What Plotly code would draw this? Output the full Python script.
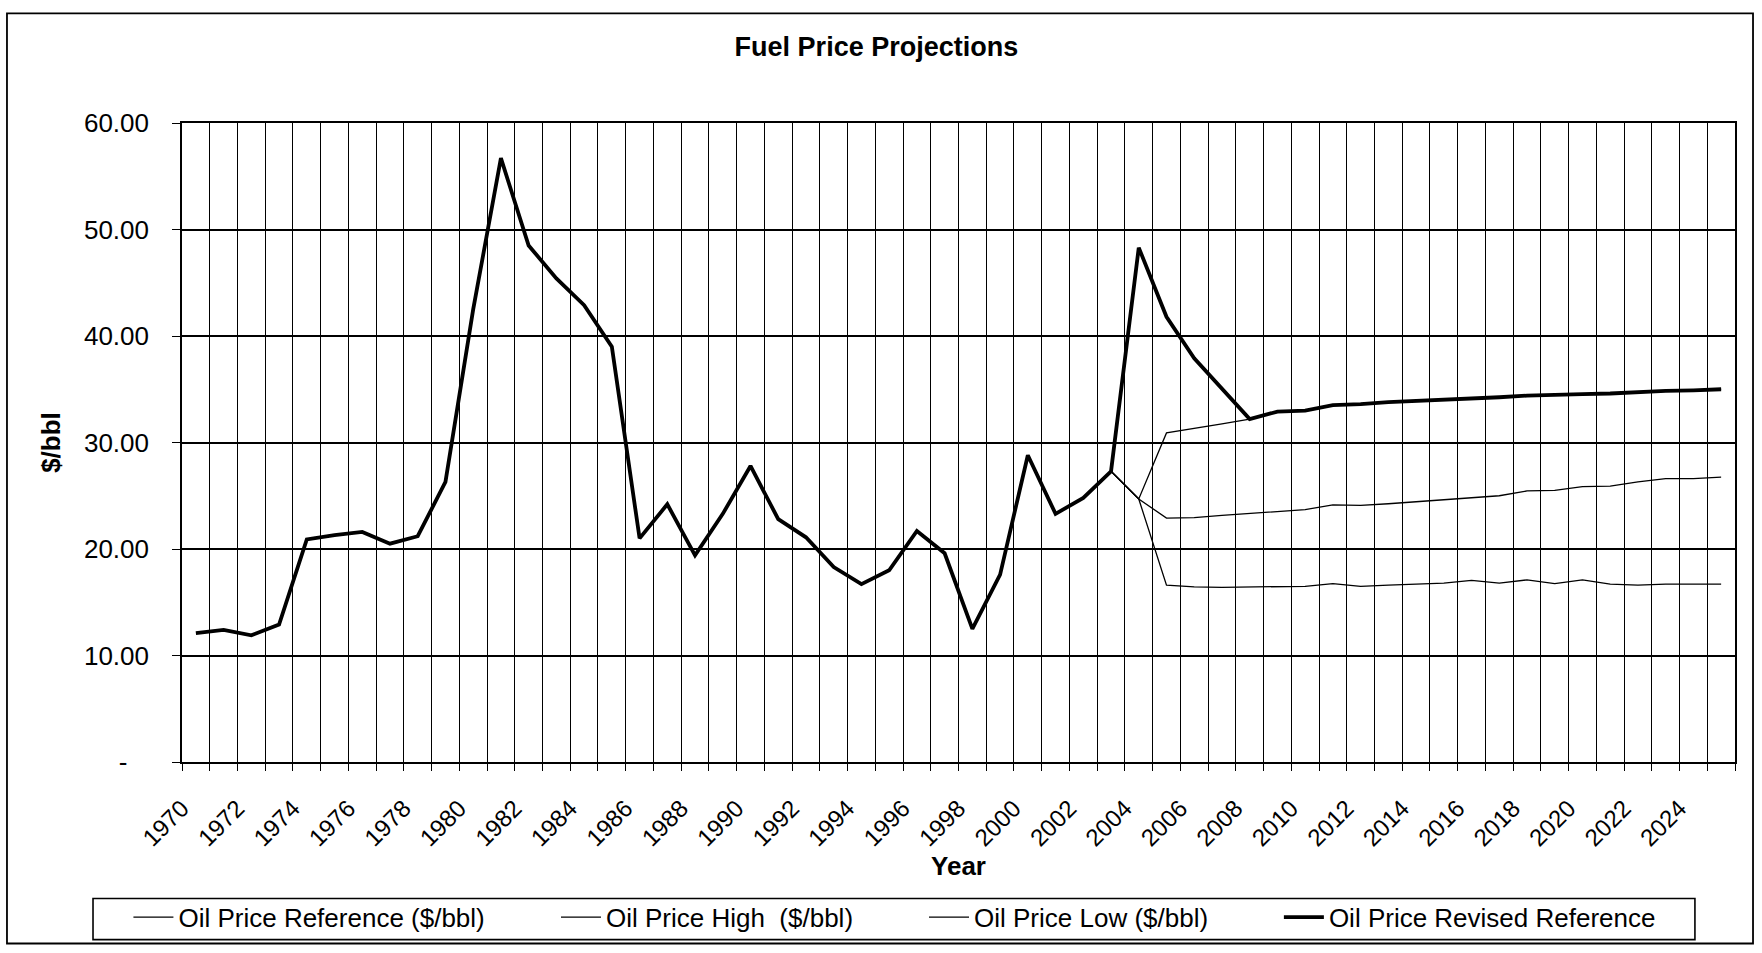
import plotly.graph_objects as go

# Years shown on the category axis (one slot per year)
years = list(range(1970, 2026))

# Oil price, revised reference case ($/bbl), 1970-2025
revised_reference = [
    12.1, 12.4, 11.9, 12.9, 20.9, 21.3, 21.6, 20.5, 21.2, 26.3,
    42.5, 56.7, 48.5, 45.4, 42.9, 39.0, 21.0, 24.2, 19.4, 23.3,
    27.8, 22.8, 21.1, 18.3, 16.7, 18.0, 21.7, 19.6, 12.5, 17.6,
    28.8, 23.3, 24.8, 27.3, 48.3, 41.8, 37.9, 35.0, 32.2, 32.9,
    33.0, 33.5, 33.6, 33.8, 33.9, 34.0, 34.1, 34.25, 34.4, 34.5,
    34.55, 34.6, 34.75, 34.85, 34.9, 35.0,
]

# Earlier projection cases, 2003-2025
case_years = list(range(2003, 2026))
reference_case = [
    27.3, 24.7, 22.9, 22.95, 23.15, 23.35, 23.5, 23.7, 24.15, 24.1,
    24.25, 24.45, 24.6, 24.8, 25.0, 25.45, 25.5, 25.85, 25.9, 26.3,
    26.6, 26.6, 26.75,
]
high_case = [
    27.3, 24.7, 30.9, 31.3, 31.75, 32.2, 32.9, 33.0, 33.5, 33.6,
    33.8, 33.9, 34.0, 34.1, 34.25, 34.4, 34.5, 34.55, 34.6, 34.75,
    34.85, 34.9, 35.0,
]
low_case = [
    27.3, 24.7, 16.6, 16.45, 16.4, 16.45, 16.5, 16.5, 16.75, 16.5,
    16.6, 16.7, 16.8, 17.05, 16.8, 17.1, 16.75, 17.1, 16.7, 16.6,
    16.7, 16.7, 16.7,
]

# Axis labels
y_tick_values = [0, 10, 20, 30, 40, 50, 60]
y_tick_labels = ["-\u00a0\u00a0\u00a0", "10.00", "20.00", "30.00", "40.00", "50.00", "60.00"]
x_label_every = 2

FONT = "Liberation Sans, Arial, Helvetica, sans-serif"
INK = "#000000"
TXT = 26

fig = go.Figure()

thin = dict(color=INK, width=1.3)
fig.add_trace(go.Scatter(x=case_years, y=reference_case, mode="lines", line=thin,
                         name="Oil Price Reference ($/bbl)", legend="legend"))
fig.add_trace(go.Scatter(x=case_years, y=high_case, mode="lines", line=thin,
                         name="Oil Price High  ($/bbl)", legend="legend2"))
fig.add_trace(go.Scatter(x=case_years, y=low_case, mode="lines", line=thin,
                         name="Oil Price Low ($/bbl)", legend="legend3"))
fig.add_trace(go.Scatter(x=years, y=revised_reference, mode="lines",
                         line=dict(color=INK, width=3.8),
                         name="Oil Price Revised Reference", legend="legend4"))

# Category boundaries: grid line and tick between every year, label every other year
boundaries = [y - 0.5 for y in years] + [years[-1] + 0.5]
boundary_text = [str(y) if (y - years[0]) % x_label_every == 0 else "" for y in years] + [""]

legend_common = dict(
    orientation="h", yanchor="middle", xanchor="left", y=-0.243,
    bgcolor="rgba(0,0,0,0)", borderwidth=0, itemwidth=40,
    font=dict(family=FONT, size=TXT, color=INK),
)

fig.update_layout(
    width=1762, height=953,
    margin=dict(l=182, r=27, t=123, b=189),
    paper_bgcolor="white", plot_bgcolor="white",
    font=dict(family=FONT, size=TXT, color=INK),
    showlegend=True,
    title=dict(text="<b>Fuel Price Projections</b>", xref="container", yref="container",
               x=0.4974, y=1 - 47 / 953, xanchor="center", yanchor="middle",
               font=dict(family=FONT, size=27, color=INK)),
    legend=dict(x=-0.0345, **legend_common),
    legend2=dict(x=0.2408, **legend_common),
    legend3=dict(x=0.4778, **legend_common),
    legend4=dict(x=0.7063, **legend_common),
    xaxis=dict(
        range=[years[0] - 0.5, years[-1] + 0.5],
        tickmode="array", tickvals=boundaries, ticktext=boundary_text,
        tickangle=-45, ticks="outside", ticklen=7, tickwidth=1.3, tickcolor=INK,
        ticklabelstandoff=14,
        showgrid=True, gridcolor=INK, gridwidth=1.3,
        showline=True, linecolor=INK, linewidth=1.6, mirror=True,
        zeroline=False,
        tickfont=dict(family=FONT, size=24, color=INK),
        title=dict(text="<b>Year</b>", standoff=0,
                   font=dict(family=FONT, size=TXT, color=INK)),
    ),
    yaxis=dict(
        range=[0, 60],
        tickmode="array", tickvals=y_tick_values, ticktext=y_tick_labels,
        ticks="outside", ticklen=8, tickwidth=1.3, tickcolor=INK,
        ticklabelstandoff=18,
        showgrid=True, gridcolor=INK, gridwidth=1.5,
        showline=True, linecolor=INK, linewidth=1.6, mirror=True,
        zeroline=False,
        tickfont=dict(family=FONT, size=TXT, color=INK),
        title=dict(text="<b>$/bbl</b>", standoff=16,
                   font=dict(family=FONT, size=TXT, color=INK)),
    ),
    shapes=[
        # legend frame
        dict(type="rect", xref="paper", yref="paper",
             x0=-0.0573, x1=0.9742, y0=-0.2780, y1=-0.2137,
             line=dict(color=INK, width=1.6), fillcolor="rgba(0,0,0,0)", layer="above"),
        # chart frame
        dict(type="rect", xref="paper", yref="paper",
             x0=-0.1127, x1=1.0116, y0=-0.284, y1=1.1716,
             line=dict(color=INK, width=1.8), fillcolor="rgba(0,0,0,0)", layer="above"),
    ],
)

fig.write_html("out.html")
